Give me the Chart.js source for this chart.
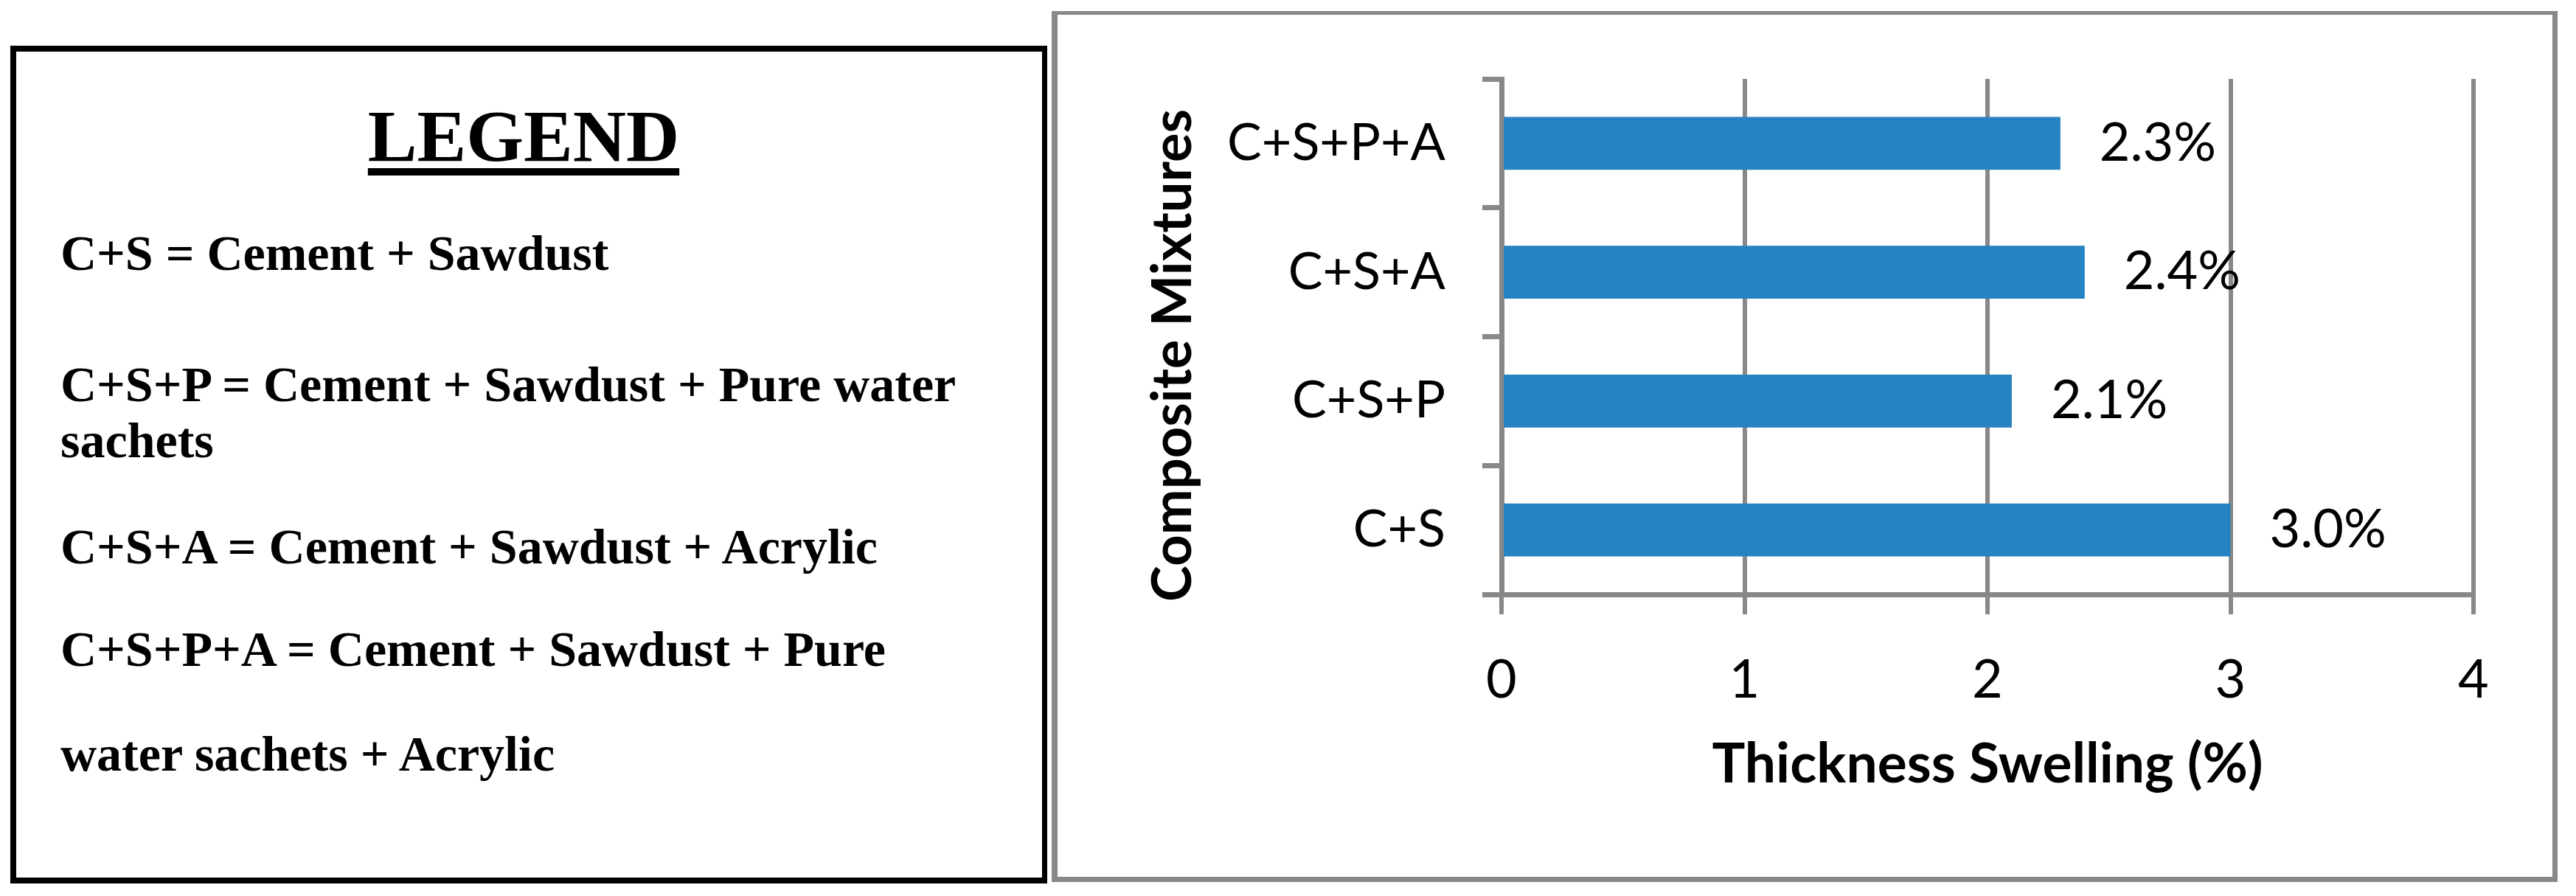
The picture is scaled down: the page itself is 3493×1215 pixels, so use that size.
<!DOCTYPE html>
<html>
<head>
<meta charset="utf-8">
<title>Thickness Swelling</title>
<script src="https://cdn.jsdelivr.net/npm/chart.js@4.4.1/dist/chart.umd.min.js"></script>
<style>
  html, body { margin: 0; padding: 0; background: #fff; }
  body { position: relative; width: 3493px; height: 1215px; overflow: hidden; }
  .legend-box {
    position: absolute; left: 14px; top: 62px; width: 1406px; height: 1136px;
    box-sizing: border-box; border: 8px solid #000; border-right-width: 7px;
  }
  .chart-box {
    position: absolute; left: 1426px; top: 15px; width: 2042px; height: 1181px;
    box-sizing: border-box; border: 7px solid #888888; border-top-width: 5px; border-left-width: 8px;
  }
  .lg {
    position: absolute; left: 82px; margin: 0; white-space: nowrap;
    font-family: "Liberation Serif", "Times New Roman", serif; font-weight: bold;
    font-size: 68px; line-height: 76px; color: #000;
  }
  .lg-title {
    position: absolute; left: 0; width: 1420px; top: 130px; margin: 0; text-align: center;
    font-family: "Liberation Serif", "Times New Roman", serif; font-weight: bold;
    font-size: 100px; line-height: 110px; color: #000;
    text-decoration: underline; text-decoration-thickness: 10px; text-underline-offset: 10px;
  }
  #chart { position: absolute; left: 1440px; top: 0; z-index: 2; }
</style>
</head>
<body>
<div class="legend-box"></div>
<div class="chart-box"></div>

<div class="lg-title">LEGEND</div>
<p class="lg" style="top:305px">C+S = Cement + Sawdust</p>
<p class="lg" style="top:483px">C+S+P = Cement + Sawdust + Pure water</p>
<p class="lg" style="top:559px">sachets</p>
<p class="lg" style="top:703px">C+S+A = Cement + Sawdust + Acrylic</p>
<p class="lg" style="top:842px">C+S+P+A = Cement + Sawdust + Pure</p>
<p class="lg" style="top:984px">water sachets + Acrylic</p>

<canvas id="chart" width="2053" height="1215"></canvas>

<script>
// values
const mixtures = ['C+S', 'C+S+P', 'C+S+A', 'C+S+P+A'];
const swelling = [3.0, 2.1, 2.4, 2.3];
const xTicks = [0, 1, 2, 3, 4];

const yTitle = 'Composite Mixtures';
const xTitle = 'Thickness Swelling (%)';

// value labels to the right of each bar
const barLabels = {
    id: 'barLabels',
    afterDatasetsDraw(chart) {
        const ctx = chart.ctx;
        const meta = chart.getDatasetMeta(0);
        ctx.save();
        ctx.font = '72px Lato';
        ctx.fillStyle = '#000';
        ctx.textAlign = 'left';
        ctx.textBaseline = 'middle';
        meta.data.forEach((bar, i) => {
            ctx.fillText(swelling[i].toFixed(1) + '%', bar.x + 53, bar.y);
        });
        ctx.restore();
    }
};

// rotated y axis title (sits a little below the axis centre in the original)
const yAxisTitle = {
    id: 'yAxisTitle',
    afterDraw(chart) {
        const ctx = chart.ctx;
        ctx.save();
        ctx.font = 'bold 74px Lato';
        ctx.fillStyle = '#000';
        ctx.textAlign = 'center';
        ctx.textBaseline = 'alphabetic';
        ctx.translate(175, 482);
        ctx.rotate(-Math.PI / 2);
        ctx.fillText(yTitle, 0, 0);
        ctx.restore();
    }
};

function drawChart() {
    Chart.defaults.font.family = 'Lato';
    Chart.defaults.color = '#000';

    new Chart(document.getElementById('chart'), {
        type: 'bar',
        data: {
            labels: mixtures,
            datasets: [{
                data: swelling,
                backgroundColor: '#2682C1',
                borderWidth: 0,
                barPercentage: 0.41,
                categoryPercentage: 1
            }]
        },
        options: {
            indexAxis: 'y',
            responsive: false,
            animation: false,
            devicePixelRatio: 1,
            layout: { padding: { left: 0, top: 107, right: 139, bottom: 0 } },
            plugins: { legend: { display: false }, tooltip: { enabled: false } },
            scales: {
                y: {
                    reverse: true,
                    afterFit: (scale) => { scale.width = 596; },
                    grid: { drawOnChartArea: false, drawTicks: true, tickLength: 26, color: '#888888', lineWidth: 7, offset: true },
                    border: { display: true, color: '#888888', width: 7 },
                    ticks: { padding: 50, font: { size: 70 }, color: '#000' },
                    title: { display: false }
                },
                x: {
                    min: xTicks[0],
                    max: xTicks[xTicks.length - 1],
                    afterFit: (scale) => { scale.height = 409; },
                    afterBuildTicks: (scale) => { scale.ticks = xTicks.map(v => ({ value: v })); },
                    grid: { color: '#888888', lineWidth: 6, tickLength: 27 },
                    border: { display: true, color: '#888888', width: 7 },
                    ticks: { padding: 47, font: { size: 72 }, color: '#000' },
                    title: {
                        display: true,
                        text: xTitle,
                        font: { size: 75, weight: 'bold' },
                        color: '#000',
                        padding: { top: 0, bottom: 133 }
                    }
                }
            }
        },
        plugins: [barLabels, yAxisTitle]
    });
}

Promise.all([
    document.fonts.load('70px Lato'),
    document.fonts.load('bold 74px Lato')
]).then(drawChart, drawChart);
</script>
</body>
</html>
